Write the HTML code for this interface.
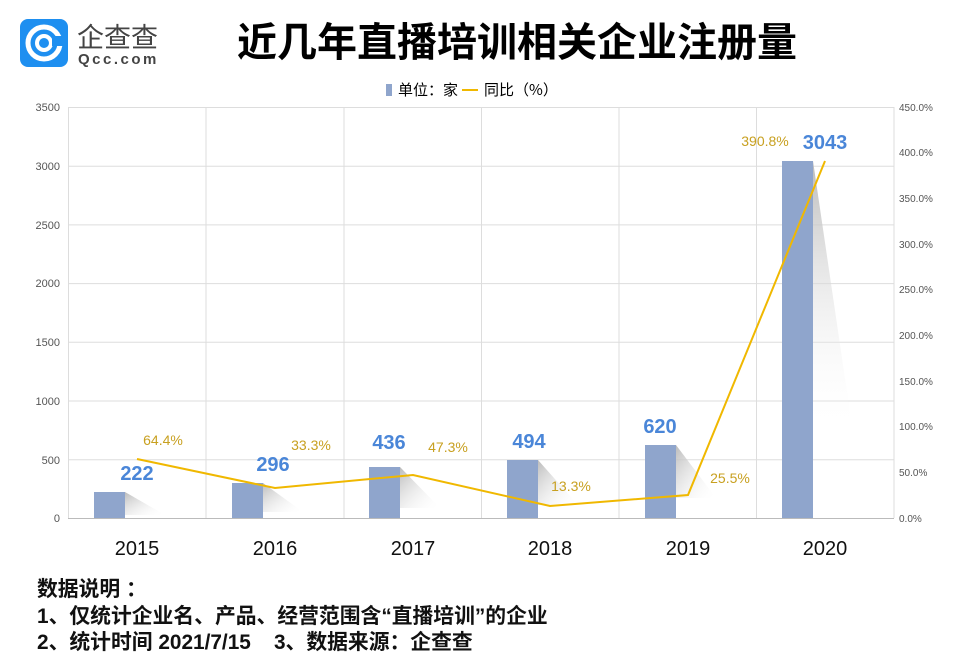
<!DOCTYPE html><html><head><meta charset="utf-8"><style>body{margin:0;background:#fff}svg{display:block}</style></head><body>
<svg width="966" height="672" xmlns="http://www.w3.org/2000/svg" font-family="Liberation Sans, Noto Sans CJK SC, sans-serif">
<defs><linearGradient id="g" x1="0" y1="0" x2="0" y2="1"><stop offset="0" stop-color="#bbb"/><stop offset="1" stop-color="#fff" stop-opacity="0"/></linearGradient>
<linearGradient id="gs" x1="0" y1="0" x2="1" y2="1"><stop offset="0" stop-color="#bbb"/><stop offset="1" stop-color="#fff" stop-opacity="0"/></linearGradient></defs>
<rect x="20" y="19" width="48" height="48" rx="8" fill="#1e8ff0"/>
<circle cx="44" cy="43" r="16" fill="none" stroke="#fff" stroke-width="5"/>
<circle cx="44" cy="43" r="7" fill="none" stroke="#fff" stroke-width="4"/>
<rect x="52" y="36" width="12" height="10" fill="#1e8ff0"/>
<text x="77" y="47" font-size="27" fill="#444" font-family="Noto Sans CJK SC, sans-serif">企查查</text>
<text x="78" y="64" font-size="15" fill="#444" letter-spacing="2.5" font-weight="bold">Qcc.com</text>
<text x="517" y="56" font-size="40" font-weight="bold" text-anchor="middle" font-family="Noto Sans CJK SC, sans-serif">近几年直播培训相关企业注册量</text>
<rect x="386" y="84" width="6" height="12" fill="#8fa5cc"/>
<text x="398" y="95" font-size="15" font-family="Noto Sans CJK SC, sans-serif">单位：家</text>
<line x1="462" y1="90" x2="478" y2="90" stroke="#f0b800" stroke-width="2"/>
<text x="484" y="95" font-size="15" font-family="Noto Sans CJK SC, sans-serif">同比（%）</text>
<g stroke="#ddd" stroke-width="1">
<line x1="68" y1="107.5" x2="894" y2="107.5"/><line x1="68" y1="166.2" x2="894" y2="166.2"/><line x1="68" y1="224.9" x2="894" y2="224.9"/><line x1="68" y1="283.6" x2="894" y2="283.6"/><line x1="68" y1="342.3" x2="894" y2="342.3"/><line x1="68" y1="401" x2="894" y2="401"/><line x1="68" y1="459.7" x2="894" y2="459.7"/>
<line x1="68.5" y1="107" x2="68.5" y2="518"/><line x1="206" y1="107" x2="206" y2="518"/><line x1="344" y1="107" x2="344" y2="518"/><line x1="481.5" y1="107" x2="481.5" y2="518"/><line x1="619" y1="107" x2="619" y2="518"/><line x1="756.5" y1="107" x2="756.5" y2="518"/><line x1="894" y1="107" x2="894" y2="518"/>
</g>
<line x1="68" y1="518.5" x2="894" y2="518.5" stroke="#bbb"/>
<g font-size="11" fill="#555" text-anchor="end">
<text x="60" y="111">3500</text><text x="60" y="170">3000</text><text x="60" y="229">2500</text><text x="60" y="287">2000</text><text x="60" y="346">1500</text><text x="60" y="405">1000</text><text x="60" y="464">500</text><text x="60" y="522">0</text></g>
<g font-size="10" fill="#555">
<text x="899" y="111">450.0%</text><text x="899" y="156">400.0%</text><text x="899" y="202">350.0%</text><text x="899" y="248">300.0%</text><text x="899" y="293">250.0%</text><text x="899" y="339">200.0%</text><text x="899" y="385">150.0%</text><text x="899" y="430">100.0%</text><text x="899" y="476">50.0%</text><text x="899" y="522">0.0%</text></g>
<g fill="url(#gs)">
<polygon points="125,492 165,515 125,515"/><polygon points="263,483 303,512 263,512"/><polygon points="400,467 440,508 400,508"/><polygon points="538,460 578,505 538,505"/><polygon points="676,445 716,498 676,498"/></g>
<polygon points="813,161 853,433 813,433" fill="url(#g)"/>
<g fill="#8fa5cc">
<rect x="94" y="492" width="31" height="26"/><rect x="232" y="483" width="31" height="35"/><rect x="369" y="467" width="31" height="51"/><rect x="507" y="460" width="31" height="58"/><rect x="645" y="445" width="31" height="73"/><rect x="782" y="161" width="31" height="357"/></g>
<polyline points="137,459 275,488 413,475 550,506 688,495 825,161" fill="none" stroke="#f0b800" stroke-width="2"/>
<g font-size="20" font-weight="bold" fill="#4a86d8" text-anchor="middle">
<text x="137" y="480">222</text><text x="273" y="471">296</text><text x="389" y="449">436</text><text x="529" y="448">494</text><text x="660" y="433">620</text><text x="825" y="149">3043</text></g>
<g font-size="14" fill="#c8a020" text-anchor="middle">
<text x="163" y="445">64.4%</text><text x="311" y="450">33.3%</text><text x="448" y="452">47.3%</text><text x="571" y="491">13.3%</text><text x="730" y="483">25.5%</text><text x="765" y="146">390.8%</text></g>
<g font-size="20" text-anchor="middle" fill="#111">
<text x="137" y="555">2015</text><text x="275" y="555">2016</text><text x="413" y="555">2017</text><text x="550" y="555">2018</text><text x="688" y="555">2019</text><text x="825" y="555">2020</text></g>
<g font-size="20.8" font-weight="bold" fill="#111" font-family="Liberation Sans, Noto Sans CJK SC, sans-serif">
<text x="37" y="596">数据说明 ：</text>
<text x="37" y="623">1、仅统计企业名、产品、经营范围含“直播培训”的企业</text>
<text x="37" y="649">2、统计时间 2021/7/15 &#160;&#160; 3、数据来源：企查查</text></g>
</svg></body></html>
